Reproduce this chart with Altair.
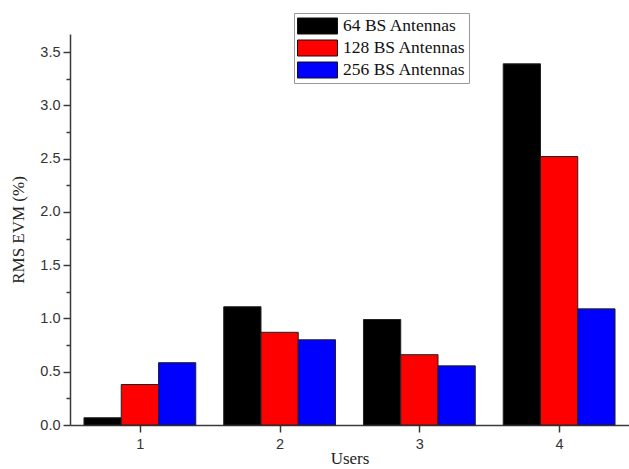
import altair as alt
import pandas as pd

users = [1, 2, 3, 4]
series = ["64 BS Antennas", "128 BS Antennas", "256 BS Antennas"]
colors = ["#000000", "#ff0000", "#0000ff"]
evm_64 = [0.068, 1.11, 0.99, 3.39]
evm_128 = [0.38, 0.87, 0.66, 2.52]
evm_256 = [0.585, 0.80, 0.555, 1.09]
x_ticks = [1, 1.5, 2, 2.5, 3, 3.5, 4]
y_ticks = [i * 0.25 for i in range(15)]

rows = []
for idx, (name, vals) in enumerate(zip(series, [evm_64, evm_128, evm_256])):
    for u, v in zip(users, vals):
        rows.append({"user": u, "series": name, "idx": idx, "evm": v})
df = pd.DataFrame(rows)

bars = alt.Chart(df).transform_calculate(
    x0="datum.user - 0.4 + datum.idx * 0.8 / 3",
    x1="datum.user - 0.4 + (datum.idx + 1) * 0.8 / 3",
).mark_rect(stroke="#222222", strokeWidth=1).encode(
    x=alt.X("x0:Q",
            scale=alt.Scale(domain=[0.5, 4.5], nice=False, zero=False),
            axis=alt.Axis(
                values=x_ticks,
                title="Users",
                format="d",
                labelExpr="datum.value % 1 === 0 ? datum.label : ''",
                tickSize={"condition": {"test": "datum.value % 1 === 0", "value": 7}, "value": 4},
                labelPadding=5,
                titlePadding=0,
            )),
    x2="x1:Q",
    y=alt.Y("evm:Q",
            scale=alt.Scale(domain=[0, 3.67], nice=False),
            axis=alt.Axis(
                values=y_ticks,
                title="RMS EVM (%)",
                format=".1f",
                labelExpr="abs(datum.value * 2 - round(datum.value * 2)) < 0.001 ? datum.label : ''",
                tickSize={"condition": {"test": "abs(datum.value * 2 - round(datum.value * 2)) < 0.001", "value": 7}, "value": 4},
                labelPadding=3,
                titlePadding=12,
            )),
    y2=alt.datum(0),
    color=alt.Color("series:N",
                    scale=alt.Scale(domain=series, range=colors),
                    legend=alt.Legend(
                        title=None,
                        orient="none",
                        legendX=224,
                        legendY=-21,
                        symbolType="M-1,-0.4L1,-0.4L1,0.4L-1,0.4Z",
                        symbolSize=1600,
                        symbolStrokeColor="#111111",
                        symbolStrokeWidth=1,
                        symbolOpacity=1,
                        clipHeight=20,
                        rowPadding=2,
                        labelOffset=5,
                        labelFont="Liberation Serif",
                        labelFontSize=17.5,
                        labelColor="#111111",
                        labelLimit=300,
                        padding=3,
                        fillColor="#ffffff",
                        strokeColor="#999999",
                    )),
)

chart = bars.properties(
    width=559,
    height=391,
    autosize=alt.AutoSizeParams(type="none"),
    padding={"left": 70, "top": 34, "right": 0, "bottom": 44},
).configure_view(stroke=None).configure_axis(
    grid=False,
    domainColor="#3a3a3a",
    domainWidth=1.5,
    tickColor="#3a3a3a",
    tickWidth=1.5,
    labelFont="Liberation Sans",
    labelFontSize=14.5,
    labelColor="#333333",
    titleFont="Liberation Serif",
    titleFontSize=17,
    titleFontWeight="normal",
    titleColor="#222222",
)

chart.save("out.html", embed_options={"renderer": "svg", "actions": False})
